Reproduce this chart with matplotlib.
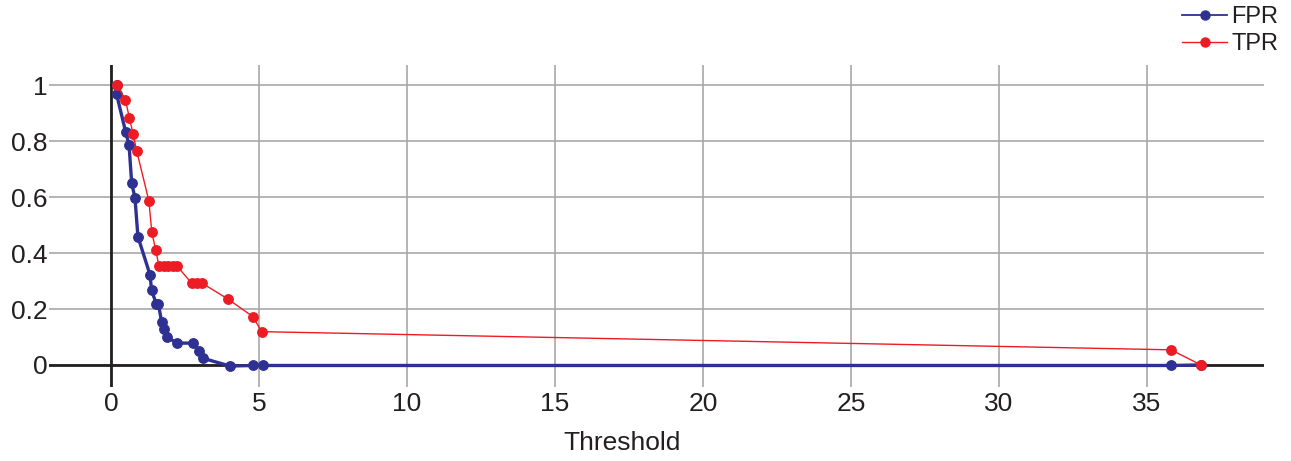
import matplotlib
matplotlib.use("Agg")
import matplotlib.pyplot as plt
from matplotlib.ticker import FuncFormatter
from matplotlib.lines import Line2D

plt.rcParams['font.family'] = ['Liberation Sans', 'DejaVu Sans']

# FPR series
fpr_x = [0.22, 0.19, 0.50, 0.61, 0.70, 0.81, 0.91, 1.32, 1.37, 1.53, 1.60, 1.71, 1.79, 1.90,
         2.24, 2.78, 2.98, 3.10, 4.02, 4.81, 5.12, 35.81, 36.82]
fpr_y = [1.00, 0.968, 0.832, 0.787, 0.650, 0.598, 0.459, 0.322, 0.268, 0.218, 0.218, 0.155, 0.128, 0.099,
         0.078, 0.078, 0.051, 0.024, -0.004, -0.002, -0.002, -0.002, 0.0]

# TPR series
tpr_x = [0.22, 0.49, 0.62, 0.75, 0.87, 1.28, 1.38, 1.51, 1.62, 1.78, 1.93, 2.08, 2.22,
         2.72, 2.89, 3.07, 3.96, 4.79, 5.09, 35.81, 36.82]
tpr_y = [1.00, 0.948, 0.884, 0.825, 0.765, 0.587, 0.474, 0.411, 0.355, 0.355, 0.355, 0.355, 0.355,
         0.293, 0.293, 0.293, 0.235, 0.173, 0.119, 0.054, 0.0]

series_labels = ['FPR', 'TPR']
x_ticks = [0, 5, 10, 15, 20, 25, 30, 35]
y_ticks = [0, 0.2, 0.4, 0.6, 0.8, 1.0]

W, H = 1291, 461
fig = plt.figure(figsize=(W / 100, H / 100), dpi=100)
L, R, T, B = 49, 1264, 65, 387
ax = fig.add_axes([L / W, (H - B) / H, (R - L) / W, (B - T) / H])

blue = '#2e3192'
red = '#ed1c24'
black = '#231f20'

ax.plot(fpr_x, fpr_y, color=blue, lw=2.4, marker='o', ms=6.8, label=series_labels[0], zorder=3)
ax.plot(tpr_x, tpr_y, color=red, lw=1.0, marker='o', ms=6.8, label=series_labels[1], zorder=4)

ax.set_xlim(-2.06 + (L - 50) / 29.6, 38.95)
ax.set_ylim(-0.079, 1.073)
ax.set_xticks(x_ticks)
ax.set_yticks(y_ticks)
ax.yaxis.set_major_formatter(FuncFormatter(lambda v, p: ('%g' % round(v, 2))))

for s in ax.spines.values():
    s.set_visible(False)
ax.grid(True, color='#a8a8a8', lw=1.2, zorder=0)
ax.axhline(0, color=black, lw=2.0, zorder=2)
ax.axvline(0, color=black, lw=2.0, zorder=2)

ax.tick_params(length=0, labelsize=19, labelcolor=black)
ax.tick_params(axis='x', pad=3.6)
ax.tick_params(axis='y', pad=1)
ax.set_xlabel('Threshold', fontsize=19, color=black)
ax.xaxis.set_label_coords((622 - L) / (R - L), (B - 431) / (B - T))

handles = [Line2D([], [], color=blue, lw=1.3, marker='o', ms=6.5),
           Line2D([], [], color=red, lw=1.0, marker='o', ms=6.5)]
fig.legend(handles, series_labels, loc='upper right', bbox_to_anchor=(1278 / W, 1 - 6 / H),
           frameon=False, fontsize=17, handlelength=1.9, handletextpad=0.17, labelspacing=0.22,
           borderpad=0, borderaxespad=0, labelcolor=black)

fig.savefig('out.png', dpi=100)
